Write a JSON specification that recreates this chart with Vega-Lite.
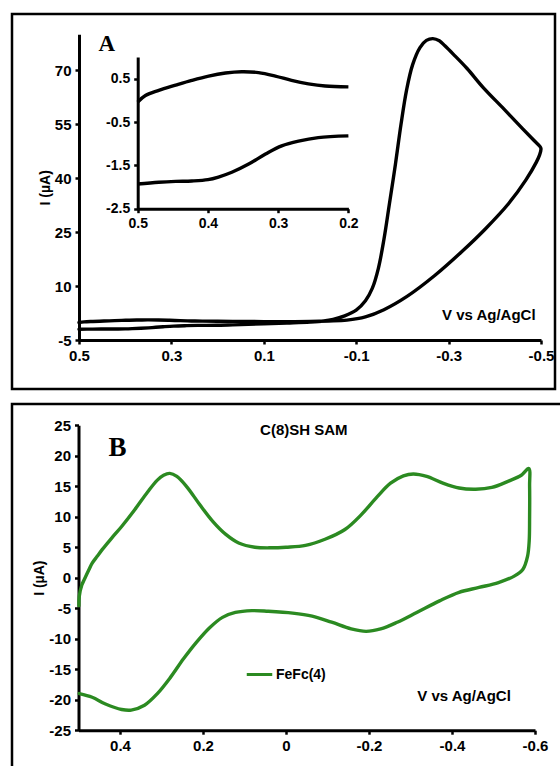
{
  "$schema": "https://vega.github.io/schema/vega-lite/v6.json",
  "padding": {"left": 10, "top": 12, "right": 0, "bottom": 0},
  "spacing": 11,
  "background": "white",
  "resolve": {"legend": {"color": "independent"}},
  "config": {
    "axis": {
      "domainColor": "black", "domainWidth": 3, "tickColor": "black", "tickWidth": 2.5, "tickSize": 4,
      "labelColor": "black", "labelFont": "Liberation Sans", "labelFontSize": 15, "labelFontWeight": "bold",
      "titleColor": "black", "titleFont": "Liberation Sans", "titleFontSize": 14, "titleFontWeight": "bold",
      "grid": false, "labelPadding": 4, "labelFlush": false, "labelOverlap": false, "titlePadding": 2
    },
    "text": {"color": "black"}
  },
  "datasets": {
    "cvA": [
      {"v": 0.5, "i": -1.93, "o": 1, "b": "lower"},
      {"v": 0.47, "i": -1.89, "o": 2, "b": "lower"},
      {"v": 0.446, "i": -1.87, "o": 3, "b": "lower"},
      {"v": 0.423, "i": -1.86, "o": 4, "b": "lower"},
      {"v": 0.4, "i": -1.83, "o": 5, "b": "lower"},
      {"v": 0.385, "i": -1.77, "o": 6, "b": "lower"},
      {"v": 0.366, "i": -1.66, "o": 7, "b": "lower"},
      {"v": 0.342, "i": -1.47, "o": 8, "b": "lower"},
      {"v": 0.318, "i": -1.24, "o": 9, "b": "lower"},
      {"v": 0.295, "i": -1.05, "o": 10, "b": "lower"},
      {"v": 0.271, "i": -0.94, "o": 11, "b": "lower"},
      {"v": 0.243, "i": -0.86, "o": 12, "b": "lower"},
      {"v": 0.2, "i": -0.82, "o": 13, "b": "lower"},
      {"v": 0.15, "i": -0.62, "o": 14, "b": "lower"},
      {"v": 0.1, "i": -0.42, "o": 15, "b": "lower"},
      {"v": 0.05, "i": -0.2, "o": 16, "b": "lower"},
      {"v": 0.0, "i": 0.05, "o": 17, "b": "lower"},
      {"v": -0.03, "i": 0.35, "o": 18, "b": "lower"},
      {"v": -0.05, "i": 0.8, "o": 19, "b": "rise"},
      {"v": -0.075, "i": 1.8, "o": 20, "b": "rise"},
      {"v": -0.1, "i": 3.4, "o": 21, "b": "rise"},
      {"v": -0.12, "i": 6.0, "o": 22, "b": "rise"},
      {"v": -0.135, "i": 9.5, "o": 23, "b": "rise"},
      {"v": -0.148, "i": 15, "o": 24, "b": "rise"},
      {"v": -0.16, "i": 23, "o": 25, "b": "rise"},
      {"v": -0.172, "i": 33, "o": 26, "b": "rise"},
      {"v": -0.185, "i": 44, "o": 27, "b": "rise"},
      {"v": -0.197, "i": 55, "o": 28, "b": "rise"},
      {"v": -0.209, "i": 64.5, "o": 29, "b": "rise"},
      {"v": -0.222, "i": 71.5, "o": 30, "b": "rise"},
      {"v": -0.238, "i": 76.3, "o": 31, "b": "rise"},
      {"v": -0.252, "i": 78.3, "o": 32, "b": "rise"},
      {"v": -0.266, "i": 78.8, "o": 33, "b": "rise"},
      {"v": -0.28, "i": 78.2, "o": 34, "b": "fall"},
      {"v": -0.292, "i": 76.8, "o": 35, "b": "fall"},
      {"v": -0.31, "i": 74.5, "o": 36, "b": "fall"},
      {"v": -0.34, "i": 70.5, "o": 37, "b": "fall"},
      {"v": -0.375, "i": 65.2, "o": 38, "b": "fall"},
      {"v": -0.42, "i": 59.2, "o": 39, "b": "fall"},
      {"v": -0.46, "i": 53.8, "o": 40, "b": "fall"},
      {"v": -0.485, "i": 50.5, "o": 41, "b": "fall"},
      {"v": -0.498, "i": 48.8, "o": 42, "b": "fall"},
      {"v": -0.5, "i": 48.2, "o": 43, "b": "fall"},
      {"v": -0.497, "i": 46.5, "o": 44, "b": "return"},
      {"v": -0.49, "i": 44.5, "o": 45, "b": "return"},
      {"v": -0.467, "i": 39.5, "o": 46, "b": "return"},
      {"v": -0.43, "i": 33, "o": 47, "b": "return"},
      {"v": -0.38, "i": 26, "o": 48, "b": "return"},
      {"v": -0.33, "i": 19.8, "o": 49, "b": "return"},
      {"v": -0.27, "i": 13, "o": 50, "b": "return"},
      {"v": -0.21, "i": 7.2, "o": 51, "b": "return"},
      {"v": -0.16, "i": 3.5, "o": 52, "b": "return"},
      {"v": -0.12, "i": 1.5, "o": 53, "b": "return"},
      {"v": -0.08, "i": 0.6, "o": 54, "b": "return"},
      {"v": -0.04, "i": 0.35, "o": 55, "b": "return"},
      {"v": 0.0, "i": 0.22, "o": 56, "b": "upper"},
      {"v": 0.05, "i": 0.2, "o": 57, "b": "upper"},
      {"v": 0.1, "i": 0.2, "o": 58, "b": "upper"},
      {"v": 0.15, "i": 0.24, "o": 59, "b": "upper"},
      {"v": 0.2, "i": 0.31, "o": 60, "b": "upper"},
      {"v": 0.233, "i": 0.33, "o": 61, "b": "upper"},
      {"v": 0.257, "i": 0.38, "o": 62, "b": "upper"},
      {"v": 0.281, "i": 0.46, "o": 63, "b": "upper"},
      {"v": 0.304, "i": 0.56, "o": 64, "b": "upper"},
      {"v": 0.328, "i": 0.64, "o": 65, "b": "upper"},
      {"v": 0.352, "i": 0.66, "o": 66, "b": "upper"},
      {"v": 0.375, "i": 0.63, "o": 67, "b": "upper"},
      {"v": 0.399, "i": 0.56, "o": 68, "b": "upper"},
      {"v": 0.423, "i": 0.46, "o": 69, "b": "upper"},
      {"v": 0.446, "i": 0.35, "o": 70, "b": "upper"},
      {"v": 0.47, "i": 0.23, "o": 71, "b": "upper"},
      {"v": 0.489, "i": 0.11, "o": 72, "b": "upper"},
      {"v": 0.5, "i": -0.04, "o": 73, "b": "upper"}
    ],
    "cvB": [
      {"v": 0.499, "i": -4.6, "o": 1, "s": "FeFc(4)"},
      {"v": 0.498, "i": -3.0, "o": 2, "s": "FeFc(4)"},
      {"v": 0.492, "i": -1.2, "o": 3, "s": "FeFc(4)"},
      {"v": 0.486, "i": -0.3, "o": 4, "s": "FeFc(4)"},
      {"v": 0.475, "i": 1.3, "o": 5, "s": "FeFc(4)"},
      {"v": 0.467, "i": 2.4, "o": 6, "s": "FeFc(4)"},
      {"v": 0.455, "i": 3.5, "o": 7, "s": "FeFc(4)"},
      {"v": 0.443, "i": 4.6, "o": 8, "s": "FeFc(4)"},
      {"v": 0.42, "i": 6.5, "o": 9, "s": "FeFc(4)"},
      {"v": 0.396, "i": 8.4, "o": 10, "s": "FeFc(4)"},
      {"v": 0.365, "i": 11.1, "o": 11, "s": "FeFc(4)"},
      {"v": 0.333, "i": 14.1, "o": 12, "s": "FeFc(4)"},
      {"v": 0.31, "i": 16.0, "o": 13, "s": "FeFc(4)"},
      {"v": 0.295, "i": 16.8, "o": 14, "s": "FeFc(4)"},
      {"v": 0.28, "i": 17.1, "o": 15, "s": "FeFc(4)"},
      {"v": 0.263, "i": 16.6, "o": 16, "s": "FeFc(4)"},
      {"v": 0.239, "i": 14.9, "o": 17, "s": "FeFc(4)"},
      {"v": 0.208, "i": 12.0, "o": 18, "s": "FeFc(4)"},
      {"v": 0.176, "i": 9.2, "o": 19, "s": "FeFc(4)"},
      {"v": 0.145, "i": 7.1, "o": 20, "s": "FeFc(4)"},
      {"v": 0.114, "i": 5.7, "o": 21, "s": "FeFc(4)"},
      {"v": 0.075, "i": 5.0, "o": 22, "s": "FeFc(4)"},
      {"v": 0.035, "i": 4.9, "o": 23, "s": "FeFc(4)"},
      {"v": 0.0, "i": 5.0, "o": 24, "s": "FeFc(4)"},
      {"v": -0.047, "i": 5.3, "o": 25, "s": "FeFc(4)"},
      {"v": -0.094, "i": 6.3, "o": 26, "s": "FeFc(4)"},
      {"v": -0.142, "i": 7.9, "o": 27, "s": "FeFc(4)"},
      {"v": -0.181, "i": 10.3, "o": 28, "s": "FeFc(4)"},
      {"v": -0.22, "i": 13.3, "o": 29, "s": "FeFc(4)"},
      {"v": -0.252, "i": 15.5, "o": 30, "s": "FeFc(4)"},
      {"v": -0.283, "i": 16.7, "o": 31, "s": "FeFc(4)"},
      {"v": -0.307, "i": 17.0, "o": 32, "s": "FeFc(4)"},
      {"v": -0.339, "i": 16.6, "o": 33, "s": "FeFc(4)"},
      {"v": -0.378, "i": 15.5, "o": 34, "s": "FeFc(4)"},
      {"v": -0.417, "i": 14.7, "o": 35, "s": "FeFc(4)"},
      {"v": -0.457, "i": 14.5, "o": 36, "s": "FeFc(4)"},
      {"v": -0.496, "i": 14.8, "o": 37, "s": "FeFc(4)"},
      {"v": -0.535, "i": 15.8, "o": 38, "s": "FeFc(4)"},
      {"v": -0.567, "i": 16.8, "o": 39, "s": "FeFc(4)"},
      {"v": -0.585, "i": 17.9, "o": 40, "s": "FeFc(4)"},
      {"v": -0.587, "i": 15.0, "o": 41, "s": "FeFc(4)"},
      {"v": -0.587, "i": 10.0, "o": 42, "s": "FeFc(4)"},
      {"v": -0.586, "i": 6.0, "o": 43, "s": "FeFc(4)"},
      {"v": -0.582, "i": 3.5, "o": 44, "s": "FeFc(4)"},
      {"v": -0.571, "i": 1.4, "o": 45, "s": "FeFc(4)"},
      {"v": -0.551, "i": 0.3, "o": 46, "s": "FeFc(4)"},
      {"v": -0.512, "i": -0.8, "o": 47, "s": "FeFc(4)"},
      {"v": -0.465, "i": -1.6, "o": 48, "s": "FeFc(4)"},
      {"v": -0.417, "i": -2.4, "o": 49, "s": "FeFc(4)"},
      {"v": -0.37, "i": -3.8, "o": 50, "s": "FeFc(4)"},
      {"v": -0.315, "i": -5.7, "o": 51, "s": "FeFc(4)"},
      {"v": -0.268, "i": -7.3, "o": 52, "s": "FeFc(4)"},
      {"v": -0.228, "i": -8.4, "o": 53, "s": "FeFc(4)"},
      {"v": -0.193, "i": -8.8, "o": 54, "s": "FeFc(4)"},
      {"v": -0.157, "i": -8.4, "o": 55, "s": "FeFc(4)"},
      {"v": -0.11, "i": -7.3, "o": 56, "s": "FeFc(4)"},
      {"v": -0.063, "i": -6.3, "o": 57, "s": "FeFc(4)"},
      {"v": -0.016, "i": -5.8, "o": 58, "s": "FeFc(4)"},
      {"v": 0.043, "i": -5.5, "o": 59, "s": "FeFc(4)"},
      {"v": 0.082, "i": -5.4, "o": 60, "s": "FeFc(4)"},
      {"v": 0.122, "i": -5.7, "o": 61, "s": "FeFc(4)"},
      {"v": 0.153, "i": -6.5, "o": 62, "s": "FeFc(4)"},
      {"v": 0.184, "i": -8.2, "o": 63, "s": "FeFc(4)"},
      {"v": 0.216, "i": -10.6, "o": 64, "s": "FeFc(4)"},
      {"v": 0.247, "i": -13.3, "o": 65, "s": "FeFc(4)"},
      {"v": 0.278, "i": -16.3, "o": 66, "s": "FeFc(4)"},
      {"v": 0.31, "i": -19.0, "o": 67, "s": "FeFc(4)"},
      {"v": 0.341, "i": -20.9, "o": 68, "s": "FeFc(4)"},
      {"v": 0.373, "i": -21.7, "o": 69, "s": "FeFc(4)"},
      {"v": 0.396, "i": -21.6, "o": 70, "s": "FeFc(4)"},
      {"v": 0.435, "i": -20.7, "o": 71, "s": "FeFc(4)"},
      {"v": 0.467, "i": -19.6, "o": 72, "s": "FeFc(4)"},
      {"v": 0.498, "i": -19.0, "o": 73, "s": "FeFc(4)"}
    ],
    "labA": [
      {"t": "A", "v": 0.44, "i": 77.2},
      {"t": "V vs Ag/AgCl", "v": -0.387, "i": 2.0}
    ],
    "labB": [
      {"t": "B", "v": 0.406, "i": 21.3},
      {"t": "C(8)SH SAM", "v": -0.043, "i": 24.2},
      {"t": "V vs Ag/AgCl", "v": -0.429, "i": -19.4}
    ]
  },
  "vconcat": [
    {
      "width": 543,
      "height": 375,
      "view": {"stroke": "black", "strokeWidth": 2.5},
      "resolve": {
        "scale": {"x": "independent", "y": "independent"},
        "axis": {"x": "independent", "y": "independent"}
      },
      "layer": [
        {
          "encoding": {
            "x": {
              "field": "v", "type": "quantitative",
              "scale": {"domain": [-0.5, 0.5], "range": [529, 67], "nice": false, "zero": false},
              "axis": {"orient": "bottom", "offset": -49, "values": [0.5, 0.3, 0.1, -0.1, -0.3, -0.5], "labelExpr": "'' + datum.value", "title": null}
            },
            "y": {
              "field": "i", "type": "quantitative",
              "scale": {"domain": [-5, 80], "range": [326.3, 20.3], "nice": false, "zero": false},
              "axis": {"orient": "left", "offset": -67, "values": [-5, 10, 25, 40, 55, 70], "labelExpr": "'' + datum.value", "title": "I (µA)"}
            }
          },
          "layer": [
            {
              "data": {"name": "cvA"},
              "mark": {"type": "line", "color": "black", "strokeWidth": 3.4, "strokeJoin": "round", "strokeCap": "round", "interpolate": "catmull-rom"},
              "encoding": {"order": {"field": "o", "type": "quantitative"}}
            },
            {
              "data": {"name": "labA"},
              "transform": [{"filter": "datum.t == 'A'"}],
              "mark": {"type": "text", "font": "Liberation Serif", "fontWeight": "bold", "fontSize": 23, "align": "center", "baseline": "middle"},
              "encoding": {"text": {"field": "t"}}
            },
            {
              "data": {"name": "labA"},
              "transform": [{"filter": "datum.t != 'A'"}],
              "mark": {"type": "text", "font": "Liberation Sans", "fontWeight": "bold", "fontSize": 15, "align": "center", "baseline": "middle"},
              "encoding": {"text": {"field": "t"}}
            }
          ]
        },
        {
          "data": {"name": "cvA"},
          "transform": [{"filter": "(datum.b == 'lower' || datum.b == 'upper') && datum.v >= 0.2"}],
          "mark": {"type": "line", "color": "black", "strokeWidth": 3.4, "strokeJoin": "round", "interpolate": "catmull-rom"},
          "encoding": {
            "x": {
              "field": "v", "type": "quantitative",
              "scale": {"domain": [0.2, 0.5], "range": [336.4, 125.7], "nice": false, "zero": false},
              "axis": {"orient": "bottom", "offset": -180.3, "values": [0.5, 0.4, 0.3, 0.2], "labelExpr": "'' + datum.value", "title": null, "labelFontSize": 14}
            },
            "y": {
              "field": "i", "type": "quantitative",
              "scale": {"domain": [-2.5, 1.0], "range": [194.7, 43], "nice": false, "zero": false},
              "axis": {"orient": "left", "offset": -125.7, "values": [0.5, -0.5, -1.5, -2.5], "labelExpr": "'' + datum.value", "title": null, "labelFontSize": 14}
            },
            "detail": {"field": "b"},
            "order": {"field": "o", "type": "quantitative"}
          }
        }
      ]
    },
    {
      "width": 556,
      "height": 372,
      "view": {"stroke": "black", "strokeWidth": 2.5},
      "encoding": {
        "x": {
          "field": "v", "type": "quantitative",
          "scale": {"domain": [-0.6, 0.5], "range": [523, 66.5], "nice": false, "zero": false},
          "axis": {"orient": "bottom", "offset": -45.8, "values": [0.4, 0.2, 0, -0.2, -0.4, -0.6], "labelExpr": "'' + datum.value", "title": null}
        },
        "y": {
          "field": "i", "type": "quantitative",
          "scale": {"domain": [-25, 25], "range": [326.2, 21.2], "nice": false, "zero": false},
          "axis": {"orient": "left", "offset": -66.5, "values": [25, 20, 15, 10, 5, 0, -5, -10, -15, -20, -25], "labelExpr": "'' + datum.value", "title": "I (µA)"}
        }
      },
      "layer": [
        {
          "data": {"name": "cvB"},
          "mark": {"type": "line", "strokeWidth": 3.4, "strokeJoin": "round", "strokeCap": "round", "interpolate": "catmull-rom"},
          "encoding": {
            "order": {"field": "o", "type": "quantitative"},
            "color": {
              "field": "s", "type": "nominal",
              "scale": {"range": ["#2b8a21"]},
              "legend": {
                "orient": "none", "legendX": 233, "legendY": 256, "title": null,
                "symbolType": "stroke", "symbolStrokeWidth": 3, "symbolSize": 650,
                "labelFont": "Liberation Sans", "labelFontWeight": "bold", "labelFontSize": 14, "labelColor": "black", "labelOffset": 2
              }
            }
          }
        },
        {
          "data": {"name": "labB"},
          "transform": [{"filter": "datum.t == 'B'"}],
          "mark": {"type": "text", "font": "Liberation Serif", "fontWeight": "bold", "fontSize": 27, "align": "center", "baseline": "middle"},
          "encoding": {"text": {"field": "t"}}
        },
        {
          "data": {"name": "labB"},
          "transform": [{"filter": "datum.t != 'B'"}],
          "mark": {"type": "text", "font": "Liberation Sans", "fontWeight": "bold", "fontSize": 15, "align": "center", "baseline": "middle"},
          "encoding": {"text": {"field": "t"}}
        }
      ]
    }
  ]
}
